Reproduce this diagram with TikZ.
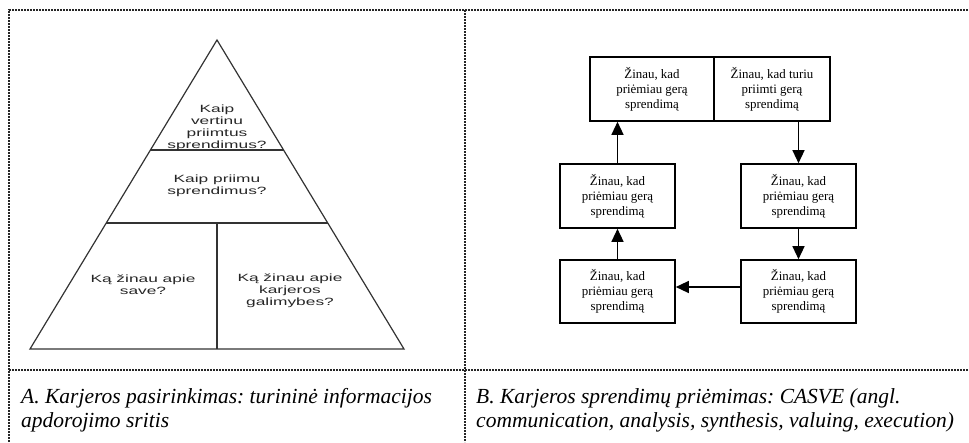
\documentclass[tikz,border=0pt]{standalone}
\usepackage{fontspec}
\setmainfont{Liberation Serif}
\newfontfamily\pyrfont[FakeStretch=1.65]{Liberation Sans}
\usetikzlibrary{arrows.meta,calc}
\frenchspacing

\begin{document}
\begin{tikzpicture}[x=1pt,y=-1pt,
  frameline/.style={line width=1.1pt, dash pattern=on 2pt off 1pt, black!85},
  pyrline/.style={line width=1.2pt, black!80},
  pyrtext/.style={font=\pyrfont\fontsize{10.5}{12}\selectfont, align=center, inner sep=0pt, text=black!85},
  stepbox/.style={draw, line width=1.6pt, font=\fontsize{12.9}{15}\selectfont, align=center, inner sep=0pt, minimum height=64pt},
  flow/.style={line width=1.3pt, -{Triangle[length=13pt,width=12pt]}},
  captiontext/.style={font=\itshape\fontsize{21.5}{24}\selectfont, align=left, inner sep=0pt, anchor=north west}
]
\useasboundingbox (0,0) rectangle (969,442);

% table frame
\draw[frameline] (9,442) -- (9,10) -- (969,10);
\draw[frameline] (465,10) -- (465,442);
\draw[frameline] (9,370) -- (969,370);

% pyramid (panel A)
\coordinate (apex) at (217,40);
\coordinate (bl) at (30,349);
\coordinate (br) at (404,349);
\draw[pyrline] (apex) -- (bl) -- (br) -- cycle;
\coordinate (l1) at ($(apex)!0.356!(bl)$);
\coordinate (r1) at ($(apex)!0.356!(br)$);
\coordinate (l2) at ($(apex)!0.592!(bl)$);
\coordinate (r2) at ($(apex)!0.592!(br)$);
\draw[pyrline] (l1) -- (r1);
\draw[pyrline] (l2) -- (r2);
\coordinate (split) at ($(l2)!0.5!(r2)$);
\draw[line width=2.2pt, black!80] (split) -- (split |- bl);

\node[pyrtext] (q1) at (217,128) {Kaip\\vertinu\\priimtus\\sprendimus?};
\node[pyrtext] (q2) at (217,186) {Kaip priimu\\sprendimus?};
\node[pyrtext] (q3) at (143,285) {Ką žinau apie\\save?};
\node[pyrtext] (q4) at (290,291) {Ką žinau apie\\karjeros\\galimybes?};

% CASVE cycle (panel B)
\node[stepbox, minimum width=124pt] (c1) at (652,89) {Žinau, kad\\priėmiau gerą\\sprendimą};
\node[stepbox, minimum width=116pt] (c2) at (772,89) {Žinau, kad turiu\\priimti gerą\\sprendimą};
\node[stepbox, minimum width=115pt] (a1) at (617.5,196) {Žinau, kad\\priėmiau gerą\\sprendimą};
\node[stepbox, minimum width=115pt] (a2) at (798.5,196) {Žinau, kad\\priėmiau gerą\\sprendimą};
\node[stepbox, minimum width=115pt, minimum height=63pt] (s1) at (617.5,291.5) {Žinau, kad\\priėmiau gerą\\sprendimą};
\node[stepbox, minimum width=115pt, minimum height=63pt] (s2) at (798.5,291.5) {Žinau, kad\\priėmiau gerą\\sprendimą};

\draw[flow] (c2.south -| a2.north) -- (a2.north);
\draw[flow] (a2) -- (s2);
\draw[flow] ([yshift=4.5pt]s2.west) -- ([yshift=4.5pt]s2.west -| s1.east);
\draw[flow] (s1) -- (a1);
\draw[flow] (a1.north) -- (a1.north |- c1.south);

% captions
\node[captiontext] (capA) at (21,388) {A. Karjeros pasirinkimas: turininė informacijos\\apdorojimo sritis};
\node[captiontext] (capB) at (476,388) {B. Karjeros sprendimų priėmimas: CASVE (angl.\\communication, analysis, synthesis, valuing, execution)};
\end{tikzpicture}
\end{document}
